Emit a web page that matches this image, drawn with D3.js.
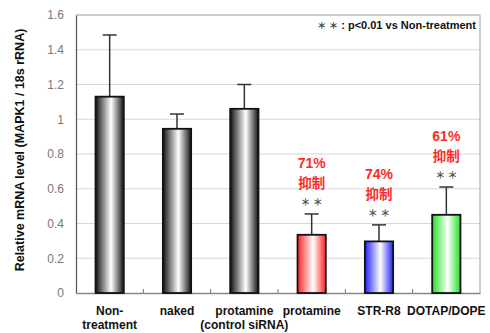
<!DOCTYPE html>
<html>
<head>
<meta charset="utf-8">
<script src="https://cdn.jsdelivr.net/npm/d3@7"></script>
<style>
  body { margin: 0; background: #fff; }
  text { font-family: Arial, "Liberation Sans", sans-serif; }
</style>
</head>
<body>
<svg id="chart"></svg>
<script>
// chart data
const categories = ['Non-treatment', 'naked', 'protamine (control siRNA)', 'protamine', 'STR-R8', 'DOTAP/DOPE'];
const labelLines = [['Non-', 'treatment'], ['naked'], ['protamine', '(control siRNA)'], ['protamine'], ['STR-R8'], ['DOTAP/DOPE']];
const means = [1.13, 0.945, 1.06, 0.335, 0.297, 0.45];
const errors = [0.355, 0.085, 0.14, 0.12, 0.095, 0.16];
const inhibition = [null, null, null, '71%', '74%', '61%'];
const significant = [false, false, false, true, true, true];
const yTicks = [0, 0.2, 0.4, 0.6, 0.8, 1, 1.2, 1.4, 1.6];
const barColors = ['#111', '#111', '#111', '#ff2020', '#2020ff', '#20e020'];

const width = 490, height = 333;
const margin = { top: 15, right: 10, bottom: 40, left: 76 };

const svg = d3.select('#chart').attr('width', width).attr('height', height);

const x = d3.scaleBand().domain(categories)
  .range([margin.left, width - margin.right]).paddingInner(0.58).paddingOuter(0.29);
const y = d3.scaleLinear().domain([0, 1.6]).range([height - margin.bottom, margin.top]);

// gradients: colored edges, white centre
const defs = svg.append('defs');
barColors.forEach((c, i) => {
  const g = defs.append('linearGradient').attr('id', 'grad' + i);
  g.append('stop').attr('offset', '0%').attr('stop-color', c);
  g.append('stop').attr('offset', '55%').attr('stop-color', '#fff');
  g.append('stop').attr('offset', '100%').attr('stop-color', c);
});

// grid
svg.append('g').selectAll('line').data(yTicks.slice(1)).enter().append('line')
  .attr('x1', margin.left).attr('x2', width - margin.right)
  .attr('y1', d => y(d)).attr('y2', d => y(d))
  .attr('stroke', '#d8d8d8').attr('stroke-width', 1.2);

// plot frame (top / right)
svg.append('path')
  .attr('d', `M${margin.left},${margin.top}H${width - margin.right}V${height - margin.bottom}`)
  .attr('fill', 'none').attr('stroke', '#b0b0b0').attr('stroke-width', 1.2);

// y axis
const yAxis = svg.append('g').attr('transform', `translate(${margin.left},0)`)
  .call(d3.axisLeft(y).tickValues(yTicks).tickSize(0).tickPadding(12).tickFormat(d => d3.format('')(d)));
yAxis.select('.domain').attr('stroke', '#555').attr('stroke-width', 1.2);
yAxis.selectAll('text').attr('fill', '#777').style('font-size', '12px');

// x axis
const xAxis = svg.append('g').attr('transform', `translate(0,${y(0)})`)
  .call(d3.axisBottom(x).tickSize(0).tickFormat(''));
xAxis.select('.domain').attr('stroke', '#888').attr('stroke-width', 1.5);
const step = x.step();
svg.append('g').selectAll('line').data(categories.slice(1)).enter().append('line')
  .attr('x1', d => x(d) - (step - x.bandwidth()) / 2).attr('x2', d => x(d) - (step - x.bandwidth()) / 2)
  .attr('y1', y(0)).attr('y2', y(0) - 4).attr('stroke', '#777');

// error bars
const eb = svg.append('g').selectAll('g').data(categories).enter().append('g');
eb.append('line')
  .attr('x1', d => x(d) + x.bandwidth() / 2).attr('x2', d => x(d) + x.bandwidth() / 2)
  .attr('y1', (d, i) => y(means[i])).attr('y2', (d, i) => y(means[i] + errors[i]))
  .attr('stroke', '#333').attr('stroke-width', 1.5);
eb.append('line')
  .attr('x1', d => x(d) + x.bandwidth() / 2 - 7).attr('x2', d => x(d) + x.bandwidth() / 2 + 7)
  .attr('y1', (d, i) => y(means[i] + errors[i])).attr('y2', (d, i) => y(means[i] + errors[i]))
  .attr('stroke', '#333').attr('stroke-width', 1.5);

// bars
svg.append('g').selectAll('rect').data(categories).enter().append('rect')
  .attr('x', d => x(d)).attr('width', x.bandwidth())
  .attr('y', (d, i) => y(means[i])).attr('height', (d, i) => y(0) - y(means[i]))
  .attr('fill', (d, i) => `url(#grad${i})`)
  .attr('stroke', '#111').attr('stroke-width', 1.8);

// x labels
const xl = svg.append('g').selectAll('text').data(categories).enter().append('text')
  .attr('x', d => x(d) + x.bandwidth() / 2).attr('y', 315)
  .attr('text-anchor', 'middle').style('font-size', '12px').style('font-weight', 'bold').attr('fill', '#111');
xl.each(function(d, i) {
  labelLines[i].forEach((line, j) => {
    d3.select(this).append('tspan').attr('x', x(d) + x.bandwidth() / 2)
      .attr('dy', j === 0 ? 0 : 14).text(line);
  });
});

const starFont = '"Noto Sans CJK JP", sans-serif';

// significance and inhibition annotations
categories.forEach((c, i) => {
  if (!significant[i]) return;
  const cx = x(c) + x.bandwidth() / 2;
  const top = y(means[i] + errors[i]);
  svg.append('text').attr('x', cx).attr('y', top - 8).attr('text-anchor', 'middle')
    .style('font-family', starFont).style('font-weight', 'bold')
    .style('font-size', '10px').attr('fill', '#555').text('＊ ＊');
  svg.append('text').attr('x', cx).attr('y', top - 26).attr('text-anchor', 'middle')
    .style('font-size', '13.5px').style('font-weight', 'bold').attr('fill', '#ff2a2a')
    .style('font-family', starFont).text('抑制');
  svg.append('text').attr('x', cx).attr('y', top - 46).attr('text-anchor', 'middle')
    .style('font-size', '14px').style('font-weight', 'bold').attr('fill', '#ff2a2a').text(inhibition[i]);
});

// legend note
const note = svg.append('text').attr('x', 476).attr('y', 29).attr('text-anchor', 'end')
  .style('font-size', '11px').style('font-weight', 'bold').attr('fill', '#111');
note.append('tspan').style('font-family', starFont).style('font-size', '9.5px').attr('fill', '#444').text('＊ ＊');
note.append('tspan').text(' : p<0.01 vs Non-treatment');

// y title
svg.append('text').attr('transform', 'translate(24,150) rotate(-90)')
  .attr('text-anchor', 'middle').style('font-size', '12.5px').style('font-weight', 'bold').attr('fill', '#111')
  .text('Relative mRNA level (MAPK1 / 18s rRNA)');
</script>
</body>
</html>
